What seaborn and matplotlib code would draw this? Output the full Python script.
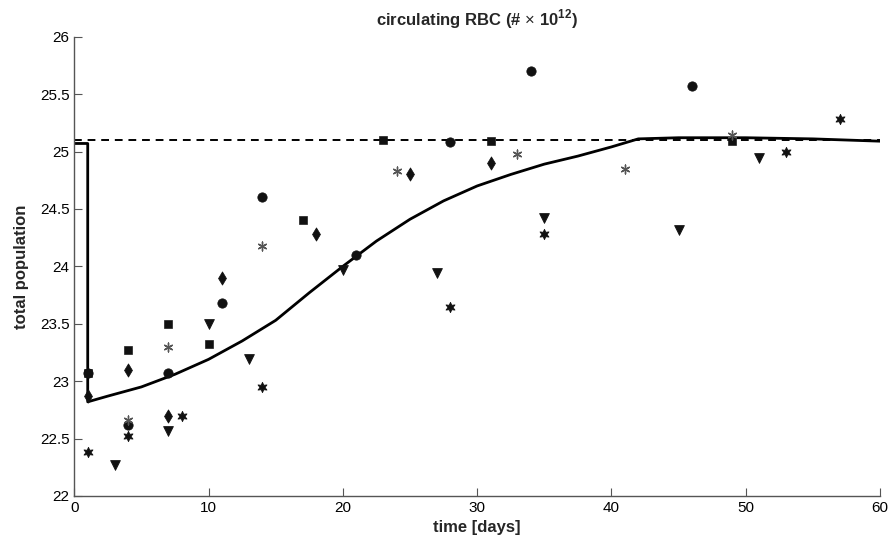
#! /usr/bin/env python3
import matplotlib

matplotlib.use("Agg")
import matplotlib.pyplot as plt
import pandas as pd
import seaborn as sns

sns.set_style("ticks")
plt.rcParams["font.family"] = ["Liberation Sans", "DejaVu Sans"]
plt.rcParams["mathtext.fontset"] = "custom"
plt.rcParams["mathtext.rm"] = "Liberation Sans"
plt.rcParams["mathtext.bf"] = "Liberation Sans:bold"

# data points
circ_x = [1, 4, 7, 11, 14, 21, 28, 34, 46]
circ_y = [23.07, 22.62, 23.07, 23.68, 24.60, 24.10, 25.08, 25.70, 25.57]
sq_x = [1, 4, 7, 10, 17, 23, 31, 49]
sq_y = [23.07, 23.27, 23.50, 23.32, 24.40, 25.10, 25.09, 25.09]
dia_x = [1, 4, 7, 11, 18, 25, 31]
dia_y = [22.87, 23.10, 22.70, 23.90, 24.28, 24.80, 24.90]
tri_x = [3, 7, 10, 13, 20, 27, 35, 45, 51]
tri_y = [22.27, 22.57, 23.50, 23.19, 23.97, 23.94, 24.42, 24.32, 24.94]
ast_x = [4, 7, 14, 24, 33, 41, 49]
ast_y = [22.66, 23.30, 24.18, 24.83, 24.98, 24.85, 25.14]
hex_x = [1, 4, 8, 14, 28, 35, 53, 57]
hex_y = [22.38, 22.52, 22.70, 22.95, 23.65, 24.28, 25.00, 25.28]

# model curve
model_t = [0, 1, 1, 2.5, 5, 7.5, 10, 12.5, 15, 17.5, 20, 22.5, 25, 27.5,
           30, 32.5, 35, 37.5, 40, 42, 45, 50, 55, 60]
model_y = [25.07, 25.07, 22.82, 22.87, 22.95, 23.06, 23.19, 23.35, 23.53,
           23.77, 24.00, 24.22, 24.41, 24.57, 24.70, 24.80, 24.89, 24.96,
           25.04, 25.11, 25.12, 25.12, 25.11, 25.09]
steady = 25.10

fig, ax = plt.subplots(figsize=(8.94, 5.5), dpi=100)
fig.subplots_adjust(left=0.0831, right=0.9843, bottom=0.0982, top=0.9333)

ax.axhline(steady, color="black", lw=1.4, ls=(0, (4, 3)), zorder=1)
df_model = pd.DataFrame({"t": model_t, "y": model_y})
sns.lineplot(data=df_model, x="t", y="y", sort=False, estimator=None,
             color="black", lw=2.0, ax=ax, zorder=2)

sns.scatterplot(x=circ_x, y=circ_y, marker="o", s=45, color="#111111",
                edgecolor="#111111", ax=ax, zorder=3)
sns.scatterplot(x=sq_x, y=sq_y, marker="s", s=30, color="#111111",
                edgecolor="#111111", ax=ax, zorder=3)
sns.scatterplot(x=dia_x, y=dia_y, marker="d", s=45, color="#111111",
                edgecolor="#111111", ax=ax, zorder=3)
sns.scatterplot(x=tri_x, y=tri_y, marker="v", s=50, color="#111111",
                edgecolor="#111111", ax=ax, zorder=3)
sns.scatterplot(x=ast_x, y=ast_y, marker=(6, 2, 0), s=40, color="#555555",
                edgecolor="#555555", linewidth=1.0, ax=ax, zorder=3)
sns.scatterplot(x=hex_x, y=hex_y, marker=(6, 1, 0), s=55, color="#111111",
                edgecolor="#111111", ax=ax, zorder=3)

ax.set_xlim(0, 60)
ax.set_ylim(22, 26)
ax.set_xticks([0, 10, 20, 30, 40, 50, 60])
ax.set_yticks([22, 22.5, 23, 23.5, 24, 24.5, 25, 25.5, 26])
ax.set_yticklabels(["22", "22.5", "23", "23.5", "24", "24.5", "25", "25.5", "26"])
sns.despine(ax=ax)
for side in ["left", "bottom"]:
    ax.spines[side].set_color("#555555")
    ax.spines[side].set_linewidth(1.0)
ax.tick_params(direction="in", length=6, width=0.8, color="#555555",
               labelsize=11, labelcolor="black")
ax.set_xlabel("time [days]", fontsize=12, fontweight="bold", labelpad=4)
ax.set_ylabel("total population", fontsize=12, fontweight="bold", labelpad=8)
ax.set_title(r"circulating RBC (# $\times$ 10$^{\mathbf{12}}$)", fontsize=12,
             fontweight="bold", pad=8)

plt.savefig("out.png", dpi=100)
